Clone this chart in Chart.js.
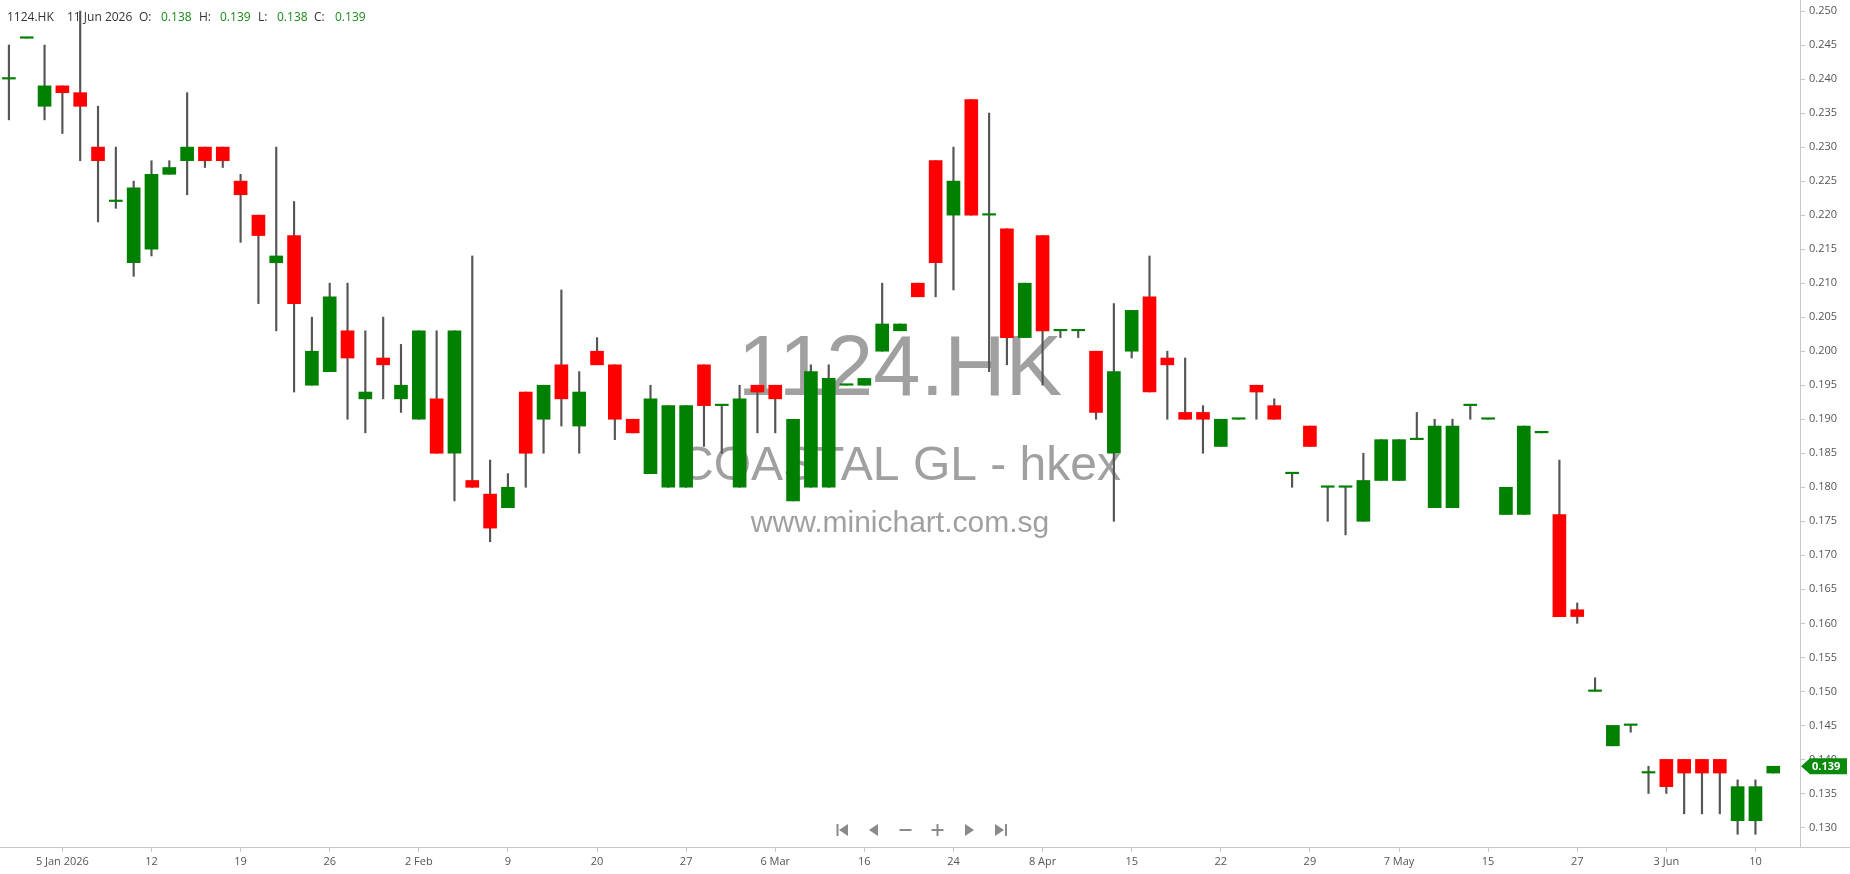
<!DOCTYPE html>
<html><head><meta charset="utf-8">
<script src="https://cdn.jsdelivr.net/npm/chart.js@4.4.1/dist/chart.umd.min.js"></script>
<style>html,body{margin:0;padding:0;background:#fff;overflow:hidden}#wrap{position:relative;width:1850px;height:874px}</style>
</head><body><div id="wrap"><canvas id="c"></canvas></div>
<script>
// ---- data (one entry per trading session) ----
const opens  = [.240,.246,.236,.239,.238,.230,.222,.213,.215,.226,.228,.230,.230,.225,.220,.213,.217,.195,.197,.203,
                .193,.199,.193,.190,.193,.185,.181,.179,.177,.194,.190,.198,.189,.200,.198,.190,.182,.180,.180,.198,
                .192,.180,.195,.195,.178,.180,.180,.195,.195,.200,.203,.210,.228,.220,.237,.220,.218,.202,.217,.203,
                .203,.200,.185,.200,.208,.199,.191,.191,.186,.190,.195,.192,.182,.189,.180,.180,.175,.181,.181,.187,
                .177,.177,.192,.190,.176,.176,.188,.176,.162,.150,.142,.145,.138,.140,.140,.140,.140,.131,.131,.138];
const highs  = [.245,.246,.245,.239,.250,.236,.230,.225,.228,.228,.238,.230,.230,.226,.220,.230,.222,.205,.210,.210,
                .203,.205,.201,.203,.203,.203,.214,.184,.182,.194,.195,.209,.197,.202,.198,.190,.195,.192,.192,.198,
                .192,.195,.195,.195,.190,.198,.198,.195,.196,.210,.204,.210,.228,.230,.237,.235,.218,.210,.217,.203,
                .203,.200,.207,.206,.214,.200,.199,.192,.190,.190,.195,.193,.182,.189,.180,.180,.185,.187,.187,.191,
                .190,.190,.192,.190,.180,.189,.188,.184,.163,.152,.145,.145,.139,.140,.140,.140,.140,.137,.137,.139];
const lows   = [.234,.246,.234,.232,.228,.219,.221,.211,.214,.226,.223,.227,.227,.216,.207,.203,.194,.195,.197,.190,
                .188,.193,.191,.190,.185,.178,.180,.172,.177,.180,.185,.189,.185,.198,.187,.188,.182,.180,.180,.186,
                .185,.180,.188,.188,.178,.180,.180,.195,.195,.200,.203,.208,.208,.209,.220,.197,.198,.202,.195,.202,
                .202,.190,.175,.199,.194,.190,.190,.185,.186,.190,.190,.190,.180,.186,.175,.173,.175,.181,.181,.187,
                .177,.177,.190,.190,.176,.176,.188,.161,.160,.150,.142,.144,.135,.135,.132,.132,.132,.129,.129,.138];
const closes = [.240,.246,.239,.238,.236,.228,.222,.224,.226,.227,.230,.228,.228,.223,.217,.214,.207,.200,.208,.199,
                .194,.198,.195,.203,.185,.203,.180,.174,.180,.185,.195,.193,.194,.198,.190,.188,.193,.192,.192,.192,
                .192,.193,.194,.193,.190,.197,.196,.195,.196,.204,.204,.208,.213,.225,.220,.220,.202,.210,.203,.203,
                .203,.191,.197,.206,.194,.198,.190,.190,.190,.190,.194,.190,.182,.186,.180,.180,.181,.187,.187,.187,
                .189,.189,.192,.190,.180,.189,.188,.161,.161,.150,.145,.145,.138,.136,.138,.138,.138,.136,.136,.139];
const tickLabels = ['5 Jan 2026','12','19','26','2 Feb','9','20','27','6 Mar','16','24','8 Apr','15','22','29','7 May','15','27','3 Jun','10'];
const yTicks = [0.130,0.135,0.140,0.145,0.150,0.155,0.160,0.165,0.170,0.175,0.180,0.185,0.190,0.195,0.200,0.205,0.210,0.215,0.220,0.225,0.230,0.235,0.240,0.245,0.250];
const symbol = '1124.HK';
const lastDate = '11 Jun 2026';
const company = 'COASTAL GL - hkex';
const site = 'www.minichart.com.sg';

const N = opens.length;
const categories = Array.from({length: N + 1}, (_, i) =>
  (i >= 3 && (i - 3) % 5 === 0 && (i - 3) / 5 < tickLabels.length) ? tickLabels[(i - 3) / 5] : '');
const GREEN = '#008000', RED = '#ff0000';
const bodyColors = opens.map((o, i) => closes[i] >= o ? GREEN : RED);
const FONT = '"Open Sans", "DejaVu Sans", sans-serif';

const decor = {
  id: 'decor',
  beforeDatasetsDraw(chart) {
    const {ctx, chartArea: a} = chart;
    const cx = (a.left + a.right) / 2;
    ctx.save();
    ctx.fillStyle = '#a0a0a0';
    ctx.textAlign = 'center';
    ctx.textBaseline = 'alphabetic';
    ctx.font = '85px "Liberation Sans", Arial, sans-serif';
    ctx.fillText(symbol, cx, 395);
    ctx.font = '48px "Liberation Sans", Arial, sans-serif';
    ctx.fillText(company, cx, 480);
    ctx.font = '30px "Liberation Sans", Arial, sans-serif';
    ctx.fillText(site, cx, 532);
    ctx.restore();
  },
  afterDraw(chart) {
    const {ctx, chartArea: a, scales} = chart;
    ctx.save();
    // extend bottom axis line under the price axis
    ctx.strokeStyle = '#c8c8c8'; ctx.lineWidth = 1;
    ctx.beginPath(); ctx.moveTo(a.right, a.bottom + 0.5); ctx.lineTo(1850, a.bottom + 0.5); ctx.stroke();
    // header
    const L = N - 1, f = v => v.toFixed(3);
    const segs = [[symbol,'#333',7],[lastDate,'#333',67],['O:','#333',139],[f(opens[L]),'#1a8a1a',161],
                  ['H:','#333',199],[f(highs[L]),'#1a8a1a',220],['L:','#333',258],[f(lows[L]),'#1a8a1a',277],
                  ['C:','#333',314],[f(closes[L]),'#1a8a1a',335]];
    ctx.font = '12px ' + FONT; ctx.textBaseline = 'middle'; ctx.textAlign = 'left';
    segs.forEach(([t, c, x]) => { ctx.fillStyle = c; ctx.fillText(t, x, 18); });
    // navigation icons
    ctx.fillStyle = '#8a8a8a';
    const y = 830;
    const tri = (x, dir) => { ctx.beginPath(); ctx.moveTo(x - 4.5*dir, y - 6); ctx.lineTo(x + 4.5*dir, y); ctx.lineTo(x - 4.5*dir, y + 6); ctx.closePath(); ctx.fill(); };
    ctx.fillRect(836.5, y - 6, 2, 12); tri(843.5, -1);
    tri(873.5, -1);
    ctx.fillRect(899.5, y - 1, 12, 2);
    ctx.fillRect(931.5, y - 1, 12, 2); ctx.fillRect(936.5, y - 6, 2, 12);
    tri(969.5, 1);
    tri(999.5, 1); ctx.fillRect(1005, y - 6, 2, 12);
    // last price tag
    const py = scales.y.getPixelForValue(closes[L]);
    ctx.fillStyle = '#0a8a0a';
    ctx.beginPath(); ctx.moveTo(1801, py); ctx.lineTo(1810, py - 8); ctx.lineTo(1847, py - 8); ctx.lineTo(1847, py + 8); ctx.lineTo(1810, py + 8); ctx.closePath(); ctx.fill();
    ctx.fillStyle = '#fff'; ctx.font = 'bold 11px ' + FONT; ctx.textBaseline = 'middle';
    ctx.fillText(f(closes[L]), 1812, py + 0.5);
    ctx.restore();
  }
};

new Chart(document.getElementById('c'), {
  type: 'bar',
  data: {
    labels: categories,
    datasets: [
      { label: 'body', data: opens.map((o, i) => [o, closes[i]]), backgroundColor: bodyColors,
        barThickness: 13, grouped: false, minBarLength: 1.5, borderWidth: 0, order: 0 },
      { label: 'wick', data: lows.map((l, i) => [l, highs[i]]), backgroundColor: '#555555',
        barThickness: 1.5, grouped: false, borderWidth: 0, order: 1 }
    ]
  },
  options: {
    responsive: true, maintainAspectRatio: false, animation: false,
    layout: { padding: 0 },
    plugins: { legend: { display: false }, tooltip: { enabled: false } },
    scales: {
      x: {
        type: 'category', offset: true,
        grid: { offset: false, drawOnChartArea: false, drawTicks: true, tickLength: 5, color: '#c8c8c8' },
        border: { display: true, color: '#c8c8c8' },
        ticks: { autoSkip: false, maxRotation: 0, minRotation: 0, padding: 3, color: '#555', font: { family: FONT, size: 11 } },
        afterBuildTicks: s => { s.ticks = s.ticks.filter(t => categories[t.value] !== ''); },
        afterFit: s => { s.height = 27; s.paddingLeft = 0; s.paddingRight = 0; }
      },
      y: {
        position: 'right', min: 0.12713, max: 0.25162,
        grid: { drawOnChartArea: false, drawTicks: true, tickLength: 5, color: '#c8c8c8' },
        border: { display: true, color: '#c8c8c8' },
        ticks: { padding: 4, color: '#555', font: { family: FONT, size: 11 }, callback: v => Number(v).toFixed(3) },
        afterBuildTicks: s => { s.ticks = yTicks.map(v => ({ value: v })); },
        afterFit: s => { s.width = 50; s.paddingTop = 0; s.paddingBottom = 0; }
      }
    }
  },
  plugins: [decor]
});
</script></body></html>
